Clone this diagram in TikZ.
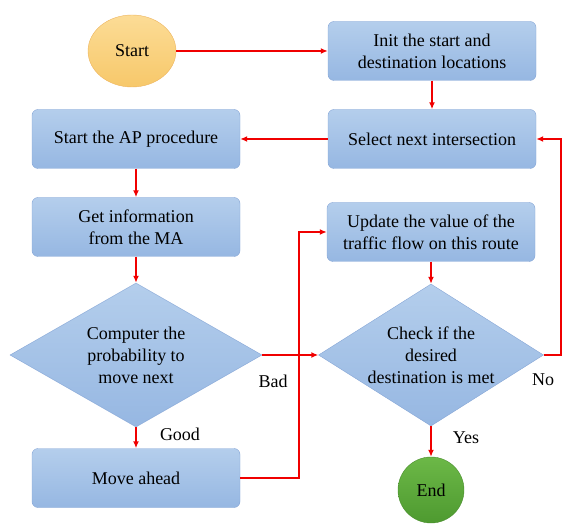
\documentclass[tikz,border=0pt]{standalone}
\usepackage{fontspec}
\setmainfont{Liberation Serif}
\usetikzlibrary{shapes.geometric,arrows.meta}

\definecolor{cajaarriba}{HTML}{B4CEEC}
\definecolor{cajaabajo}{HTML}{96B7E2}
\definecolor{cajaborde}{HTML}{86A6D6}
\definecolor{rojo}{HTML}{F00000}
\definecolor{naranjaarriba}{HTML}{FCDC96}
\definecolor{naranjaabajo}{HTML}{F7C86A}
\definecolor{naranjaborde}{HTML}{EDB45E}
\definecolor{verdearriba}{HTML}{6CB847}
\definecolor{verdeabajo}{HTML}{4E9A30}
\definecolor{verdeborde}{HTML}{4A8E2E}

\tikzset{
    caja/.style={rectangle, rounded corners=6pt, draw=cajaborde, top color=cajaarriba, bottom color=cajaabajo,
        minimum width=208pt, minimum height=59pt, inner sep=0pt, align=center, font=\fontsize{18}{22}\selectfont},
    rombo/.style={diamond, draw=cajaborde, top color=cajaarriba, bottom color=cajaabajo,
        inner sep=0pt, align=center, font=\fontsize{18}{22}\selectfont},
    flecha/.style={draw=rojo, line width=1.6pt, -{Latex[length=7pt,width=6pt]}},
    etiqueta/.style={font=\fontsize{18}{22}\selectfont}
}

\begin{document}
\begin{tikzpicture}[x=1pt,y=-1pt]
    \useasboundingbox (0,0) rectangle (565,526);

    % Inicio y fin
    \node[ellipse, draw=naranjaborde, top color=naranjaarriba, bottom color=naranjaabajo,
        minimum width=88pt, minimum height=72pt, font=\fontsize{18}{22}\selectfont] (start) at (132,51) {Start};
    \node[circle, draw=verdeborde, top color=verdearriba, bottom color=verdeabajo,
        minimum size=66pt, inner sep=0pt, font=\fontsize{18}{22}\selectfont] (fin) at (431,490) {End};

    % Cajas
    \node[caja] (init) at (432,51) {Init the start and\\destination locations};
    \node[caja] (select) at (432,139) {Select next intersection};
    \node[caja] (ap) at (136,139) {Start the AP procedure};
    \node[caja] (info) at (136,227) {Get information\\from the MA};
    \node[caja] (mover) at (136,478) {Move ahead};
    \node[caja] (update) at (431,232) {Update the value of the\\traffic flow on this route};

    % Decisiones
    \node[rombo, aspect=1.75, minimum width=252pt, minimum height=144pt] (prob) at (136,355) {Computer the\\probability to\\move next};
    \node[rombo, aspect=1.62, minimum width=225pt, minimum height=142pt] (check) at (431,355) {Check if the\\desired\\destination is met};

    % Conectores
    \draw[flecha] (start) -- (init);
    \draw[flecha] (init) -- (select);
    \draw[flecha] (select) -- (ap);
    \draw[flecha] (ap) -- (info);
    \draw[flecha] (info) -- (prob);
    \draw[flecha] (prob) -- (mover);
    \draw[flecha] (prob.east) -- (check.west);
    \draw[flecha] (mover.east) -- ++(59,0) |- (update.west);
    \draw[flecha] (update) -- (check);
    \draw[flecha] (check.east) -- ++(17,0) |- (select.east);
    \draw[flecha] (check.south) -- (fin);

    % Etiquetas
    \node[etiqueta] (good) at (180,434) {Good};
    \node[etiqueta] (bad) at (273,381) {Bad};
    \node[etiqueta] (no) at (543,380) {No};
    \node[etiqueta] (yes) at (466,438) {Yes};
\end{tikzpicture}
\end{document}
